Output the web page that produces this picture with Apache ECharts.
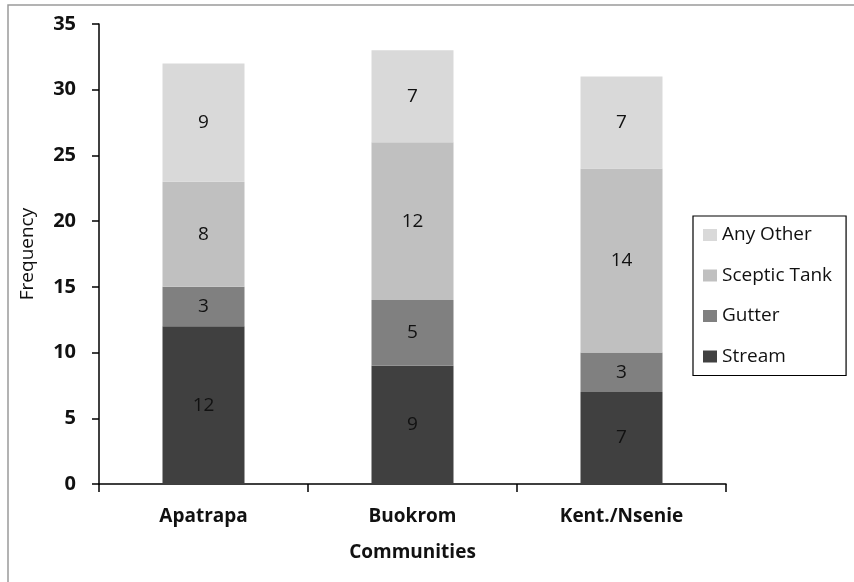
<!DOCTYPE html>
<html>
<head>
<meta charset="utf-8">
<script src="https://cdn.jsdelivr.net/npm/echarts@6/dist/echarts.min.js"></script>
<style>
  html, body { margin: 0; padding: 0; background: #fff; }
  #chart { width: 854px; height: 582px; }
</style>
</head>
<body>
<div id="chart"></div>
<script>
// Toilet / waste disposal sites by community
const communities = ['Apatrapa', 'Buokrom', 'Kent./Nsenie'];
const stream = [12, 9, 7];
const gutter = [3, 5, 3];
const scepticTank = [8, 12, 14];
const anyOther = [9, 7, 7];
const yTicks = { min: 0, max: 35, interval: 5 };

const FONT = '"Open Sans", "Noto Sans", sans-serif';

function layer(name, data, color) {
  return {
    name: name,
    type: 'bar',
    stack: 'total',
    data: data,
    barWidth: 82,
    itemStyle: { color: color },
    label: {
      show: true,
      position: 'inside',
      color: '#111',
      fontFamily: FONT,
      fontSize: 19
    }
  };
}

const chart = echarts.init(document.getElementById('chart'), null, { renderer: 'canvas' });
chart.setOption({
  animation: false,
  backgroundColor: '#fff',
  graphic: [{
    type: 'rect',
    shape: { x: 8, y: 5, width: 860, height: 600 },
    style: { fill: 'none', stroke: '#9a9a9a', lineWidth: 1.5 },
    silent: true
  }],
  grid: { left: 99, right: 128, top: 24, bottom: 98 },
  xAxis: {
    type: 'category',
    data: communities,
    name: 'Communities',
    nameLocation: 'middle',
    nameGap: 59,
    nameTextStyle: { fontFamily: FONT, fontSize: 19, fontWeight: 'bold', color: '#111' },
    axisLine: { lineStyle: { color: '#000', width: 1.5 } },
    axisTick: { show: true, length: 8, lineStyle: { color: '#000', width: 1.5 } },
    axisLabel: { fontFamily: FONT, fontSize: 19, fontWeight: 'bold', color: '#111', margin: 23 }
  },
  yAxis: {
    type: 'value',
    min: yTicks.min,
    max: yTicks.max,
    interval: yTicks.interval,
    name: 'Frequency',
    nameLocation: 'middle',
    nameGap: 62,
    nameTextStyle: { fontFamily: FONT, fontSize: 19, color: '#111' },
    splitLine: { show: false },
    axisLine: { show: true, lineStyle: { color: '#000', width: 1.5 } },
    axisTick: { show: true, length: 7, lineStyle: { color: '#000', width: 1.5 } },
    axisLabel: { fontFamily: FONT, fontSize: 20, fontWeight: 'bold', color: '#111', margin: 23 }
  },
  legend: {
    orient: 'vertical',
    left: 693,
    top: 216,
    data: ['Any Other', 'Sceptic Tank', 'Gutter', 'Stream'],
    itemWidth: 14,
    itemHeight: 12,
    itemGap: 20.5,
    padding: [9, 14, 9, 10],
    borderColor: '#000',
    borderWidth: 1.2,
    borderRadius: 0,
    icon: 'rect',
    textStyle: { fontFamily: FONT, fontSize: 19, color: '#111', lineHeight: 20 }
  },
  series: [
    layer('Stream', stream, '#404040'),
    layer('Gutter', gutter, '#808080'),
    layer('Sceptic Tank', scepticTank, '#c0c0c0'),
    layer('Any Other', anyOther, '#d9d9d9')
  ]
});
</script>
</body>
</html>
